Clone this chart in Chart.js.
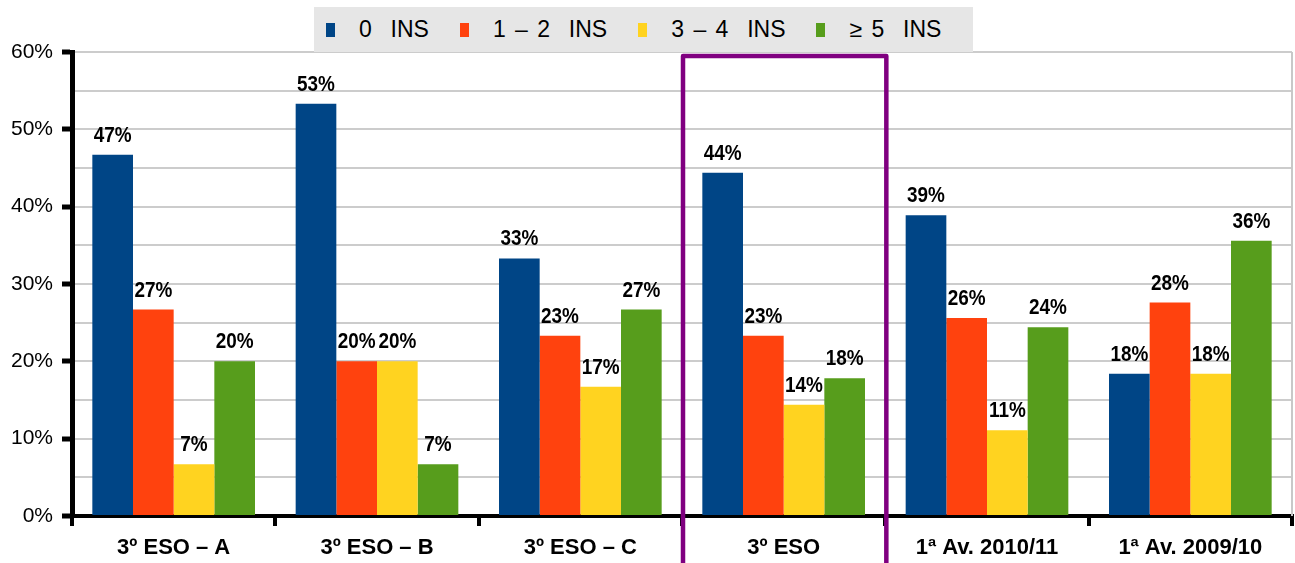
<!DOCTYPE html>
<html>
<head>
<meta charset="utf-8">
<script src="https://cdn.jsdelivr.net/npm/chart.js@4/dist/chart.umd.min.js"></script>
<style>
  html,body{margin:0;padding:0;background:#fff;}
  #wrap{position:relative;width:1295px;height:563px;}
  #legend{position:absolute;left:314px;top:7px;width:659px;height:45px;background:#e6e6e6;
    display:flex;align-items:center;box-sizing:border-box;padding-left:12px;
    font-family:"Liberation Sans",Arial,sans-serif;font-size:23px;color:#000;white-space:pre;word-spacing:3px;z-index:2;}
  #legend .it{display:flex;align-items:center;margin-right:31px;}
  #legend .sw{width:9px;height:14px;margin-right:24px;}
</style>
</head>
<body>
<div id="wrap">
  <div id="legend"></div>
  <canvas id="c" width="1295" height="563"></canvas>
</div>
<script>
  // categories and series (percent of students)
  const categories = ['3º ESO – A','3º ESO – B','3º ESO – C','3º ESO','1ª Av. 2010/11','1ª Av. 2009/10'];
  const seriesNames = ['0  INS','1 – 2  INS','3 – 4  INS','≥ 5  INS'];
  const seriesColors = ['#004586','#ff420e','#ffd320','#579d1c'];
  const ins0  = [46.7, 53.3, 33.3, 44.4, 38.9, 18.4];
  const ins12 = [26.7, 20.0, 23.3, 23.3, 25.6, 27.6];
  const ins34 = [6.7, 20.0, 16.7, 14.4, 11.1, 18.4];
  const ins5  = [20.0, 6.7, 26.7, 17.8, 24.4, 35.6];
  const yTicks = [0,10,20,30,40,50,60];
  const highlightIndex = 3; // '3º ESO' framed in purple

  const FONT = '"Liberation Sans",Arial,sans-serif';

  // legend
  document.getElementById('legend').innerHTML = seriesNames.map((n,i)=>
    `<div class="it"><span class="sw" style="background:${seriesColors[i]}"></span><span>${n}</span></div>`).join('');

  // bold condensed value labels over each bar
  const valueLabels = {
    id:'valueLabels',
    afterDatasetsDraw(chart){
      const ctx = chart.ctx, sx = 0.86;
      chart.data.datasets.forEach((ds,di)=>{
        chart.getDatasetMeta(di).data.forEach((bar,i)=>{
          ctx.save();
          ctx.font = 'bold 22px ' + FONT;
          ctx.fillStyle = '#000';
          ctx.textAlign = 'center';
          ctx.textBaseline = 'alphabetic';
          ctx.translate(bar.x, bar.y - 13);
          ctx.scale(sx, 1);
          ctx.fillText(Math.round(ds.data[i])+'%', 0, 0);
          ctx.restore();
        });
      });
    }
  };

  const frame = {
    id:'frame',
    afterDraw(chart){
      const {ctx, chartArea:a} = chart;
      const w = (a.right - a.left) / categories.length;
      const l = a.left + highlightIndex*w + 1, r = l + w;
      ctx.save();
      ctx.strokeStyle = '#c8c8c8'; ctx.lineWidth = 2;
      ctx.beginPath(); ctx.moveTo(a.right, a.top); ctx.lineTo(a.right, a.bottom); ctx.stroke();
      ctx.strokeStyle = '#800080'; ctx.lineWidth = 4.5; ctx.lineJoin = 'round';
      ctx.beginPath();
      ctx.moveTo(l, chart.height + 5); ctx.lineTo(l, a.top + 4); ctx.lineTo(r, a.top + 4); ctx.lineTo(r, chart.height + 5);
      ctx.stroke();
      ctx.restore();
    }
  };

  const series = [ins0, ins12, ins34, ins5];
  new Chart(document.getElementById('c'), {
    type:'bar',
    data:{
      labels: categories,
      datasets: series.map((d,i)=>({label:seriesNames[i], data:d, backgroundColor:seriesColors[i],
        categoryPercentage:0.8, barPercentage:1.0, borderWidth:0}))
    },
    options:{
      responsive:false, animation:false,
      layout:{padding:{top:52,right:3,left:0,bottom:0}},
      plugins:{legend:{display:false}, tooltip:{enabled:false}},
      scales:{
        x:{
          grid:{offset:true, drawOnChartArea:false, drawTicks:true, tickLength:10, lineWidth:4, color:'#000'},
          border:{color:'#000', width:4},
          ticks:{color:'#000', font:{family:FONT, size:22, weight:'bold'}, padding:9, maxRotation:0, autoSkip:false},
          afterFit(s){ s.height = 47; }
        },
        y:{
          min:0, max:60,
          grid:{color:'#cccccc', lineWidth:2, tickLength:10, tickWidth:5,
            tickColor: c => (c.tick && c.tick.value % 10 === 0) ? '#000' : 'rgba(0,0,0,0)'},
          border:{color:'#000', width:5},
          ticks:{stepSize:5, color:'#000', font:{family:FONT, size:21}, padding:9,
            callback: v => yTicks.includes(v) ? v + '%' : ''},
          afterFit(s){ s.width = 72; }
        }
      }
    },
    plugins:[valueLabels, frame]
  });
</script>
</body>
</html>
